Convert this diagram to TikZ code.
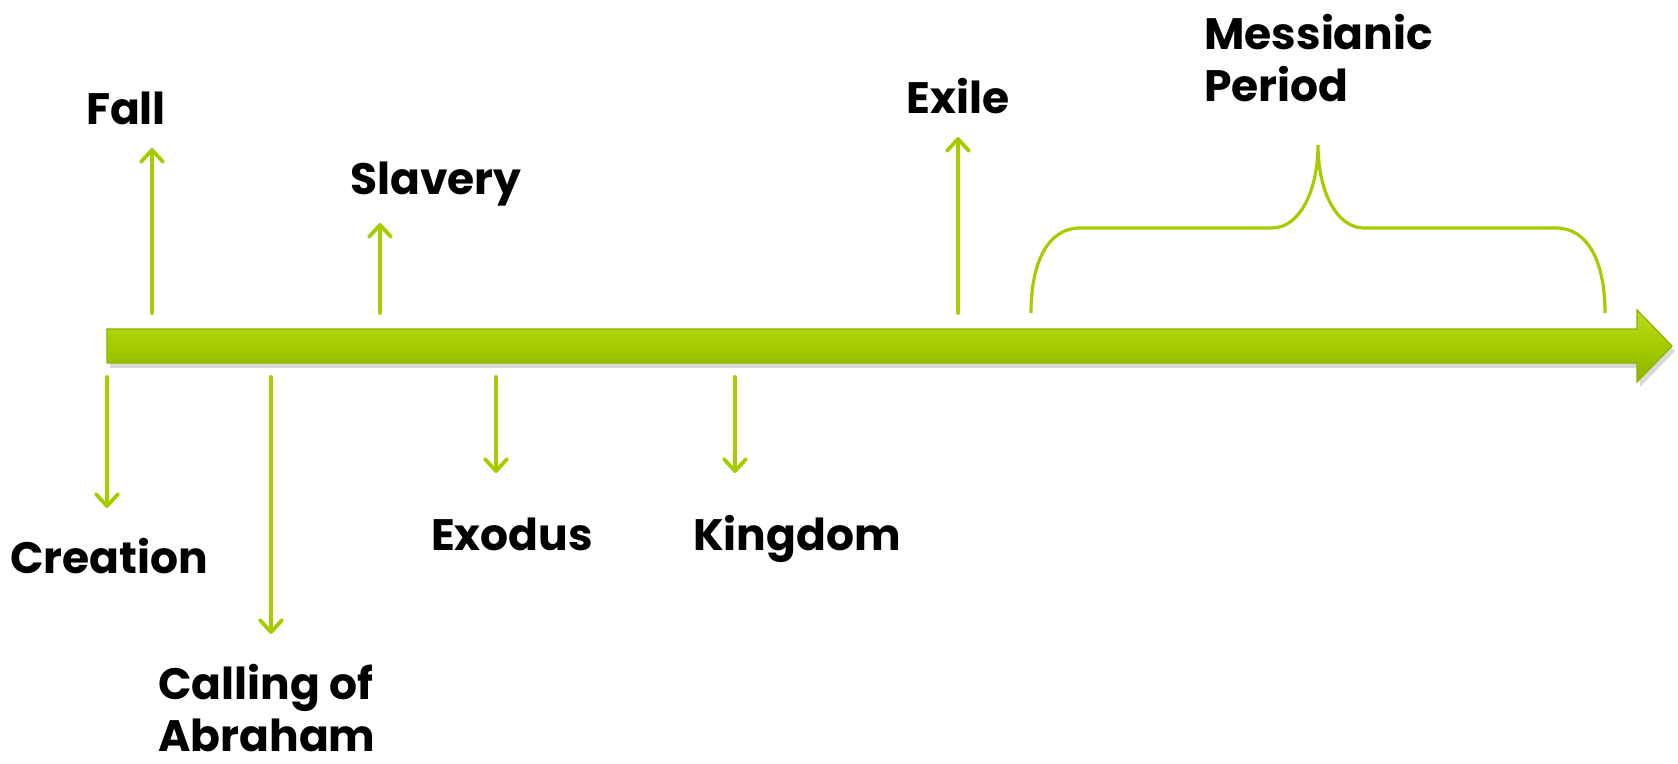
\documentclass[tikz,border=0pt]{standalone}
\usepackage{fontspec}
\setmainfont{Poppins}
\usetikzlibrary{arrows.meta,shadows}
\definecolor{lime}{RGB}{164,204,0}
\definecolor{limedark}{RGB}{140,178,0}
\definecolor{limelight}{RGB}{184,220,30}

\begin{document}
\begin{tikzpicture}[x=0.5pt,y=-0.5pt,
    lbl/.style={font=\fontsize{22}{26}\selectfont\bfseries,inner sep=0pt},
    tick/.style={draw=lime,line width=1.9pt,line cap=round,
      -{Straight Barb[length=6pt,width=11pt,round]}}]
  \useasboundingbox (0,0) rectangle (1678,764);
  % the time line
  \path[drop shadow={opacity=0.3,shadow xshift=1.5pt,shadow yshift=-2.5pt},
    top color=limelight,bottom color=limedark,middle color=lime,draw=limedark,line width=0.6pt]
    (107,329) -- (1637,329) -- (1637,310) -- (1672,346) -- (1637,382) -- (1637,363) -- (107,363) -- cycle;
  % events above
  \node[lbl,anchor=base] (fall) at (126,125) {Fall};
  \node[lbl,anchor=base] (slavery) at (436,195) {Slavery};
  \node[lbl,anchor=base] (exile) at (958,114) {Exile};
  \node[lbl,anchor=north west,align=left] (messiah) at (1204,14) {Messianic\\Period};
  \coordinate (fall0) at (152,313);    \coordinate (fall1) at (152,148);
  \coordinate (slavery0) at (380,313); \coordinate (slavery1) at (380,223);
  \coordinate (exile0) at (958,313);   \coordinate (exile1) at (958,137);
  \draw[tick] (fall0) -- (fall1);
  \draw[tick] (slavery0) -- (slavery1);
  \draw[tick] (exile0) -- (exile1);
  % events below
  \node[lbl,anchor=base] (creation) at (109,574) {Creation};
  \node[lbl,anchor=north west,align=left] (calling) at (158,664) {Calling of\\Abraham};
  \node[lbl,anchor=base] (exodus) at (512,551) {Exodus};
  \node[lbl,anchor=base] (kingdom) at (797,551) {Kingdom};
  \coordinate (creation0) at (107,377); \coordinate (creation1) at (107,508);
  \coordinate (calling0) at (271,377);  \coordinate (calling1) at (271,634);
  \coordinate (exodus0) at (496,377);   \coordinate (exodus1) at (496,473);
  \coordinate (kingdom0) at (735,377);  \coordinate (kingdom1) at (735,473);
  \draw[tick] (creation0) -- (creation1);
  \draw[tick] (calling0) -- (calling1);
  \draw[tick] (exodus0) -- (exodus1);
  \draw[tick] (kingdom0) -- (kingdom1);
  % brace
  \coordinate (br0) at (1031,313);
  \coordinate (brtip) at (1318,145);
  \coordinate (br1) at (1605,313);
  \draw[lime,line width=1.6pt] (br0) .. controls (1031,262) and (1048,228) .. (1080,228)
    -- (1272,228) .. controls (1300,228) and (1318,190) .. (brtip)
    .. controls (1318,190) and (1336,228) .. (1364,228)
    -- (1556,228) .. controls (1588,228) and (1605,262) .. (br1);
\end{tikzpicture}
\end{document}
